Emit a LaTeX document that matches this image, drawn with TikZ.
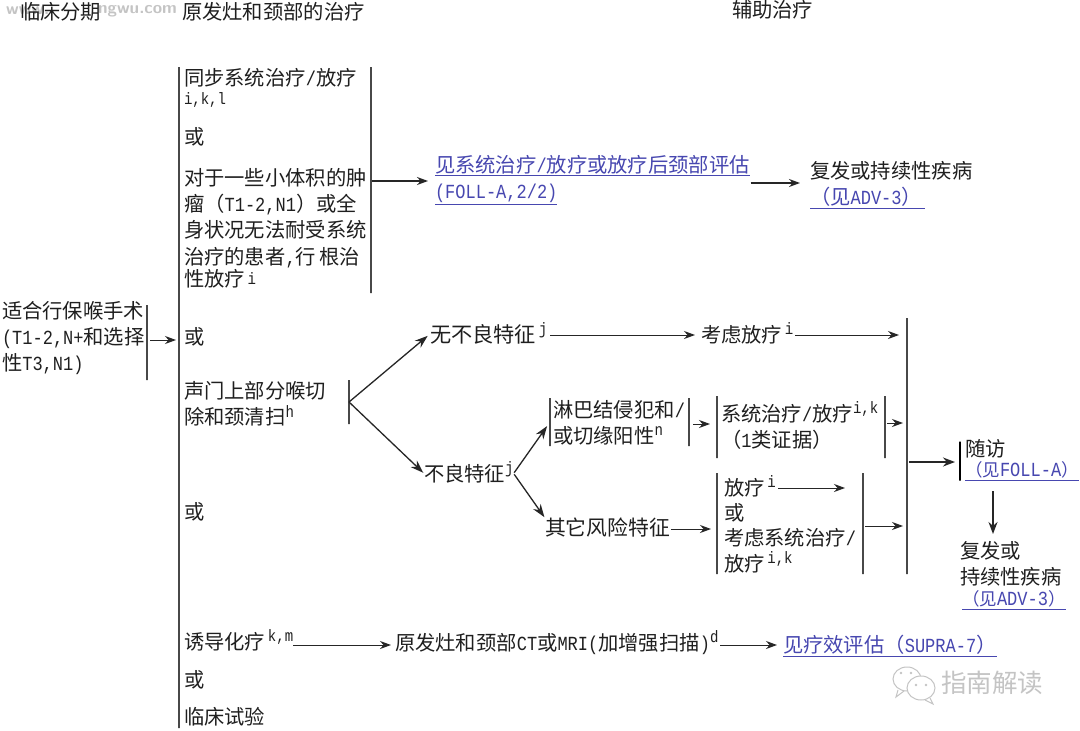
\documentclass[tikz,border=0pt]{standalone}
\usepackage{fontspec}
\setmainfont{Noto Sans CJK SC}
\newfontfamily\latf[FakeStretch=0.85]{Liberation Mono}
\newcommand\la[1]{{\latf\fontsize{20}{20}\selectfont #1}}
\newcommand\sups[1]{\smash{\raisebox{7.5pt}{\latf\fontsize{16.5}{16.5}\selectfont #1}}}
\newcommand\supl[1]{\smash{\raisebox{2pt}{\latf\fontsize{16.5}{16.5}\selectfont #1}}}
\definecolor{linkblue}{HTML}{4747B0}
\definecolor{linegray}{HTML}{484848}
\definecolor{markgray}{HTML}{C4C4C4}
\usetikzlibrary{arrows.meta}
\tikzset{
  txt/.style={anchor=north west,inner sep=0pt,outer sep=0pt,align=left,text=black!88,font=\fontsize{20.3}{26.4}\selectfont},
  wide/.style={font=\fontsize{21.2}{26.4}\selectfont},
  lnk/.style={txt,text=linkblue},
  vbar/.style={draw=linegray,line width=1.2pt,inner sep=0pt,outer sep=0pt,minimum width=0pt,text width=0pt},
  arr/.style={-{Stealth[length=11pt,width=8pt]},line width=1pt,draw=black!85},
  fork/.style={-{Stealth[length=13pt,width=9pt]},line width=1.3pt,draw=black!85},
  harr/.style={-{Stealth[length=12pt,width=9pt]},line width=1.7pt,draw=black!85},
  wmark/.style={anchor=west,inner sep=0pt,text=markgray},
}
\begin{document}
\begin{tikzpicture}[x=1pt,y=-1pt]
\useasboundingbox (0,0) rectangle (1080,731);
\fill[white] (0,0) rectangle (1080,731);
% watermark top left
\node[wmark,font=\sffamily\bfseries\fontsize{17}{17}\selectfont] (wma) at (6,11) {www.};
\node[wmark,font=\sffamily\bfseries\fontsize{17}{17}\selectfont] (wmb) at (98,11) {ngwu.com};
% headers
\node[txt] (h1) at (20,2) {临床分期};
\node[txt] (h2) at (182,2) {原发灶和颈部的治疗};
\node[txt] (h3) at (732,0) {辅助治疗};
% bars
\node[vbar,minimum height=661pt] (barM) at (179,397.5) {};
\node[vbar,minimum height=226pt] (barA) at (371,180) {};
\node[vbar,minimum height=75pt] (barL) at (147,342.5) {};
\node[vbar,minimum height=44pt] (barF) at (349,402) {};
\node[vbar,minimum height=48pt] (barN1) at (550,422) {};
\node[vbar,minimum height=48pt] (barN2) at (689,422) {};
\node[vbar,minimum height=62pt] (barS1) at (717,427) {};
\node[vbar,minimum height=62pt] (barS2) at (885,427) {};
\node[vbar,minimum height=101pt] (barR1) at (717,523.5) {};
\node[vbar,minimum height=101pt] (barR2) at (863,523.5) {};
\node[vbar,minimum height=256pt] (barE) at (907,446) {};
\node[vbar,draw=black,line width=2pt,minimum height=39pt] (barV) at (960,461) {};
% left column
\node[txt] (stage) at (2,301) {适合行保喉手术\\[-.5pt]\la{(T1-2,N+}和选择\\性\la{T3,N1)}};
% first block
\node[txt] (cc) at (184,68) {同步系统治疗\la{/}放疗\\[-7pt]\la{\fontsize{16.5}{16.5}\selectfont i,k,l}};
\node[txt] (or1) at (184,127) {或};
\node[txt] (rt) at (184,168) {对于一些小体积的肿\\瘤（\la{T1-2,N1}）或全\\身状况无法耐受系统\\治疗的患者\la{,}行\,根治\\[-4pt]性放疗\supl{\,i}};
\node[txt] (or2) at (184,327) {或};
\node[txt] (sg) at (184,381) {声门上部分喉切\\除和颈清扫\sups{h}};
\node[txt] (or3) at (184,502) {或};
\node[txt] (ic) at (184,632) {诱导化疗\sups{\,k,m}};
\node[txt] (or4) at (184,670) {或};
\node[txt] (tr) at (184,707) {临床试验};
% top right
\node[lnk] (see) at (435,155) {\underline{见系统治疗\la{/}放疗或放疗后颈部评估}\\\underline{\la{(FOLL-A,2/2)}}};
\node[txt] (rec1) at (810,161) {复发或持续性疾病};
\node[lnk] (adv1) at (810,187) {\underline{（见\la{ADV-3}）\,}};
% middle
\node[txt,wide] (noadv) at (430,324) {无不良特征\sups{\,j}};
\node[txt] (crt) at (701,325) {考虑放疗\sups{\,i}};
\node[txt] (adv) at (424,464) {不良特征\sups{j}};
\node[txt] (lym) at (553,400) {淋巴结侵犯和\la{/}\\或切缘阳性\sups{n}};
\node[txt] (sys) at (721,404) {系统治疗\la{/}放疗\sups{i,k}\\[-.5pt]（\la{1}类证据）};
\node[txt,font=\fontsize{20.8}{26.4}\selectfont] (oth) at (545,518) {其它风险特征};
\node[txt] (rad) at (724,478) {放疗\sups{\,i}\\[-1pt]或\\[-1pt]考虑系统治疗\la{/}\\[-1pt]放疗\sups{\,i,k}};
% follow-up
\node[txt] (fu) at (965,439) {随访};
\node[lnk,font=\fontsize{17.5}{19}\selectfont] (fol) at (965,462) {\underline{（见\la{FOLL-A}）}};
\node[txt] (rec2) at (960,541) {复发或\\持续性疾病};
\node[lnk,font=\fontsize{17.5}{19}\selectfont] (adv2) at (962,591) {\underline{（见\la{ADV-3}）}};
% bottom row
\node[txt] (img) at (395,633) {原发灶和颈部\la{CT}或\la{MRI(}加增强扫描\la{)}\sups{d}};
\node[lnk] (sup) at (783,635) {\underline{见疗效评估（\la{SUPRA-7}）}};
% connectors
\draw[arr,shorten <=3pt,shorten >=3pt] (barL.east |- 0,340) -- (barM.west |- 0,340);
\draw[arr,line width=1.3pt,shorten <=1pt,shorten >=7pt] (barA.east |- 0,181) -- (see.west |- 0,181);
\draw[arr,line width=1.3pt,shorten <=1pt,shorten >=10pt] (see.east |- 0,183) -- (rec1.west |- 0,183);
\draw[fork,shorten >=3pt] (barF.east) -- (noadv.west);
\draw[fork,shorten >=1pt] (barF.east) -- (adv.west);
\draw[arr,shorten <=3pt,shorten >=6pt] (noadv.east |- 0,335) -- (crt.west |- 0,335);
\draw[arr,shorten <=2pt,shorten >=8pt] (crt.east |- 0,335) -- (barE.west |- 0,335);
\draw[fork,shorten <=1pt,shorten >=5pt] (adv.east) -- (barN1.west);
\draw[fork,shorten <=1pt,shorten >=1pt] (adv.east) -- (oth.north west);
\draw[arr,shorten <=4pt,shorten >=7pt] (barN2.east |- 0,424) -- (barS1.west |- 0,424);
\draw[arr,shorten <=1pt,shorten >=6pt] (oth.east |- 0,529) -- (barR1.west |- 0,529);
\draw[arr,shorten <=2pt,shorten >=4pt] (barS2.east |- 0,423) -- (barE.west |- 0,423);
\draw[arr,shorten <=2pt,shorten >=4pt] (barR2.east |- 0,526) -- (barE.west |- 0,526);
\coordinate (radstart) at (778,488);
\coordinate (radtip) at (845,488);
\draw[arr] (radstart) -- (radtip);
\draw[harr,shorten <=2pt,shorten >=5pt] (barE.east |- 0,462) -- (barV.west |- 0,462);
\coordinate (fuout) at (993,491);
\draw[harr,shorten >=7pt] (fuout) -- (fuout |- rec2.north);
\draw[arr,shorten >=4pt] (ic.east |- 0,645) -- (img.west |- 0,645);
\draw[arr,shorten <=2pt,shorten >=6pt] (img.east |- 0,645) -- (sup.west |- 0,645);
% wechat-style watermark
\begin{scope}[draw=markgray,line width=1pt]
\draw (907,679) ellipse (14 and 12);
\fill[white] (921,688) ellipse (14 and 12);
\draw (921,688) ellipse (14 and 12);
\draw (898,690) -- (896,697) -- (904,691);
\draw (930,698) -- (933,704) -- (925,700);
\fill[markgray] (901,673) circle (1.3) (911,673) circle (1.3) (916,685) circle (1.3) (926,685) circle (1.3);
\end{scope}
\node[wmark,font=\fontsize{25.5}{25.5}\selectfont] (wmc) at (941,683) {指南解读};
\end{tikzpicture}
\end{document}
